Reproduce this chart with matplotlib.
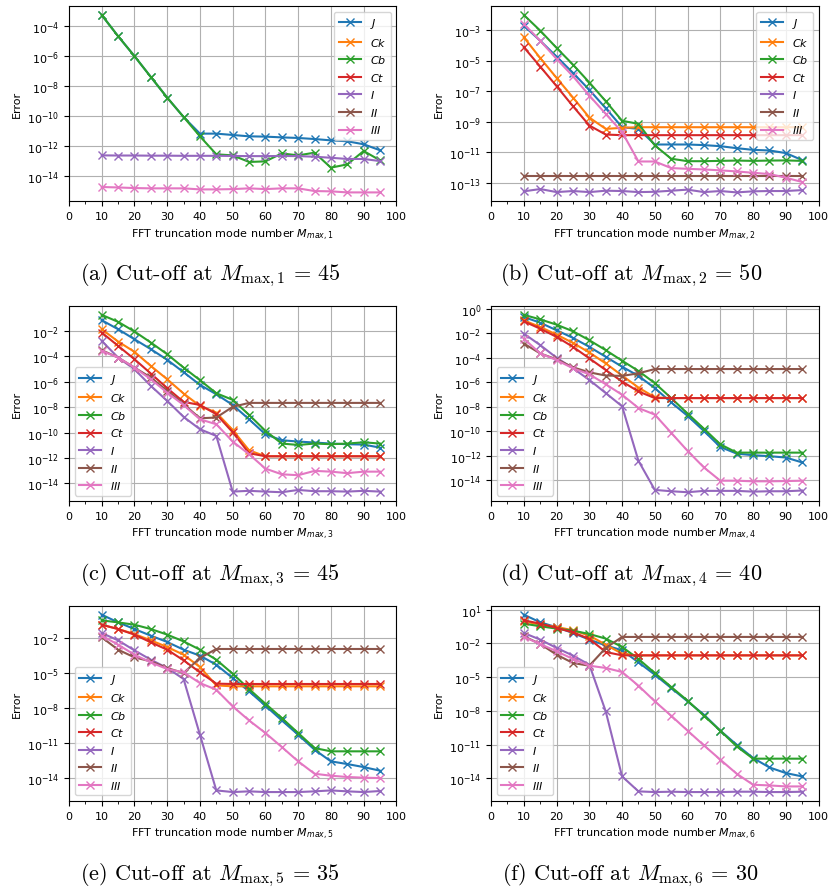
import numpy as np
import matplotlib
matplotlib.use('Agg')
import matplotlib.pyplot as plt
from matplotlib.ticker import MultipleLocator, FixedLocator, NullLocator

plt.rcParams['font.size'] = 8
plt.rcParams['mathtext.fontset'] = 'dejavusans'

nan = np.nan

# truncation mode numbers
M = [10, 15, 20, 25, 30, 35, 40, 45, 50, 55, 60, 65, 70, 75, 80, 85, 90, 95]

names = ['$J$', '$Ck$', '$Cb$', '$Ct$', '$I$', '$II$', '$III$']
colors = ['#1f77b4', '#ff7f0e', '#2ca02c', '#d62728', '#9467bd', '#8c564b', '#e377c2']

# log10 of the error
# (a) cut-off 45
J_a = [-3.26, -4.67, -6.0, -7.39, -8.77, -10.06, -11.17, -11.17, -11.26, -11.35, -11.37, -11.42, -11.46, -11.53, -11.62, -11.68, -11.88, -12.28]
Ck_a = [nan, nan, nan, nan, nan, nan, nan, nan, nan, nan, nan, nan, nan, nan, nan, nan, nan, nan]
Cb_a = [-3.26, -4.67, -6.0, -7.39, -8.77, -10.06, -11.35, -12.55, -12.62, -13.06, -13.02, -12.49, -12.62, -12.44, -13.44, -13.22, -12.33, -12.95]
Ct_a = [nan, nan, nan, nan, nan, nan, nan, nan, nan, nan, nan, nan, nan, nan, nan, nan, nan, nan]
I_a = [-12.62, -12.63, -12.63, -12.64, -12.64, -12.65, -12.65, -12.65, -12.66, -12.67, -12.67, -12.66, -12.67, -12.71, -12.78, -12.86, -12.86, -13.0]
II_a = [nan, nan, nan, nan, nan, nan, nan, nan, nan, nan, nan, nan, nan, nan, nan, nan, nan, nan]
III_a = [-14.73, -14.76, -14.8, -14.82, -14.82, -14.82, -14.89, -14.89, -14.87, -14.82, -14.87, -14.82, -14.82, -15.0, -15.02, -15.09, -15.09, -15.09]

# (b) cut-off 50
J_b = [-2.72, -3.70, -4.74, -5.80, -6.91, -8.11, -9.35, -9.46, -10.48, -10.48, -10.48, -10.52, -10.59, -10.72, -10.83, -10.87, -11.04, -11.5]
Ck_b = [-3.48, -4.83, -6.13, -7.41, -8.72, -9.46, -9.39, -9.35, -9.35, -9.35, -9.35, -9.35, -9.35, -9.35, -9.35, -9.35, -9.35, -9.35]
Cb_b = [-2.02, -3.04, -4.17, -5.26, -6.43, -7.65, -8.93, -9.13, -10.54, -11.41, -11.57, -11.57, -11.55, -11.53, -11.55, -11.53, -11.52, -11.55]
Ct_b = [-4.13, -5.39, -6.67, -7.98, -9.24, -9.83, -9.87, -9.87, -9.87, -9.87, -9.87, -9.87, -9.87, -9.87, -9.87, -9.87, -9.87, -9.87]
I_b = [-13.54, -13.39, -13.59, -13.52, -13.59, -13.50, -13.52, -13.59, -13.57, -13.50, -13.43, -13.59, -13.52, -13.61, -13.54, -13.52, -13.52, -13.46]
II_b = [-12.57, -12.57, -12.57, -12.57, -12.57, -12.57, -12.57, -12.57, -12.57, -12.57, -12.57, -12.57, -12.57, -12.57, -12.57, -12.57, -12.57, -12.57]
III_b = [-2.61, -3.70, -4.89, -6.02, -7.28, -8.48, -9.67, -11.59, -11.59, -12.02, -12.07, -12.11, -12.17, -12.24, -12.33, -12.41, -12.65, -12.93]

# (c) cut-off 45
J_c = [-1.16, -1.87, -2.66, -3.44, -4.28, -5.25, -6.25, -6.99, -7.83, -8.96, -10.14, -10.61, -10.71, -10.79, -10.87, -10.92, -10.95, -11.19]
Ck_c = [-1.87, -2.84, -3.65, -4.76, -5.81, -6.93, -7.91, -8.43, -9.80, -11.40, -11.87, -11.87, -11.87, -11.87, -11.87, -11.87, -11.87, -11.87]
Cb_c = [-0.74, -1.29, -2.05, -2.92, -3.84, -4.89, -5.88, -6.91, -7.43, -8.61, -9.87, -10.87, -10.98, -10.87, -10.92, -10.87, -10.77, -10.87]
Ct_c = [-2.13, -3.18, -4.23, -5.36, -6.51, -7.59, -7.83, -8.56, -9.98, -11.63, -11.87, -11.87, -11.87, -11.87, -11.87, -11.87, -11.87, -11.87]
I_c = [-2.79, -4.10, -5.02, -6.33, -7.51, -8.77, -9.74, -10.27, -14.65, -14.59, -14.65, -14.70, -14.52, -14.62, -14.62, -14.65, -14.59, -14.65]
II_c = [-3.52, -4.10, -4.89, -5.67, -6.72, -7.77, -8.88, -8.82, -7.98, -7.67, -7.67, -7.67, -7.67, -7.67, -7.67, -7.67, -7.67, -7.67]
III_c = [-3.57, -4.10, -4.89, -5.81, -6.86, -7.83, -8.96, -9.35, -10.71, -11.71, -12.84, -13.29, -13.36, -13.02, -13.08, -13.2, -13.08, -13.08]

# (d) cut-off 40
J_d = [-0.67, -1.13, -1.75, -2.37, -3.10, -3.91, -4.72, -5.47, -6.47, -7.63, -8.73, -9.97, -11.27, -11.81, -11.94, -12.02, -12.13, -12.53]
Ck_d = [-0.94, -1.48, -2.10, -2.78, -3.56, -4.45, -5.44, -6.42, -7.22, -7.28, -7.28, -7.28, -7.28, -7.28, -7.28, -7.28, -7.28, -7.28]
Cb_d = [-0.49, -0.86, -1.29, -1.83, -2.56, -3.37, -4.23, -5.07, -6.06, -7.28, -8.54, -9.78, -11.05, -11.73, -11.73, -11.73, -11.73, -11.73]
Ct_d = [-1.02, -1.62, -2.29, -3.10, -4.04, -4.99, -5.93, -6.74, -7.28, -7.28, -7.28, -7.28, -7.28, -7.28, -7.28, -7.28, -7.28, -7.28]
I_d = [-2.02, -2.96, -3.99, -4.85, -5.80, -6.87, -7.95, -12.4, -14.77, -14.88, -14.96, -14.85, -14.85, -14.85, -14.91, -14.88, -14.88, -14.82]
II_d = [-2.83, -3.64, -4.12, -4.77, -5.18, -5.44, -5.47, -5.26, -4.91, -4.91, -4.91, -4.91, -4.91, -4.91, -4.91, -4.91, -4.91, -4.91]
III_d = [-2.43, -3.64, -4.18, -4.85, -5.34, -6.15, -7.01, -8.09, -8.63, -10.11, -11.59, -12.94, -14.02, -14.02, -14.07, -14.07, -14.05, -14.02]

# (e) cut-off 35
J_e = [0.0, -0.66, -1.23, -1.80, -2.34, -3.0, -3.51, -4.29, -5.43, -6.57, -7.80, -9.06, -10.29, -11.57, -12.57, -12.80, -13.06, -13.37]
Ck_e = [-0.86, -1.23, -1.66, -2.20, -2.77, -3.43, -4.49, -6.06, -6.14, -6.14, -6.14, -6.14, -6.14, -6.14, -6.14, -6.14, -6.14, -6.14]
Cb_e = [-0.49, -0.66, -0.86, -1.23, -1.71, -2.29, -3.0, -3.86, -5.06, -6.37, -7.63, -8.86, -10.14, -11.43, -11.71, -11.71, -11.71, -11.71]
Ct_e = [-0.86, -1.23, -1.71, -2.37, -3.0, -3.91, -4.94, -5.91, -5.94, -5.94, -5.94, -5.94, -5.94, -5.94, -5.94, -5.94, -5.94, -5.94]
I_e = [-1.57, -2.2, -3.06, -3.86, -4.57, -5.51, -10.29, -15.06, -15.2, -15.14, -15.2, -15.2, -15.2, -15.14, -15.06, -15.14, -15.2, -15.11]
II_e = [-1.94, -3.0, -3.66, -4.0, -4.57, -5.0, -3.71, -2.94, -2.94, -2.94, -2.94, -2.94, -2.94, -2.94, -2.94, -2.94, -2.94, -2.94]
III_e = [-1.8, -2.57, -3.43, -4.09, -4.66, -4.94, -5.86, -6.43, -7.86, -9.06, -10.14, -11.34, -12.57, -13.63, -13.80, -13.91, -13.97, -14.0]

# (f) cut-off 30
J_f = [0.55, -0.13, -0.57, -1.08, -1.67, -2.18, -2.62, -3.69, -4.79, -5.97, -7.16, -8.35, -9.77, -11.02, -12.2, -13.04, -13.54, -13.84]
Ck_f = [-0.04, -0.34, -0.54, -0.84, -1.31, -2.12, -2.92, -3.07, -3.07, -3.07, -3.07, -3.07, -3.07, -3.07, -3.07, -3.07, -3.07, -3.07]
Cb_f = [-0.25, -0.48, -0.69, -0.87, -1.17, -1.58, -2.32, -3.39, -4.64, -5.88, -7.10, -8.44, -9.77, -11.17, -12.26, -12.26, -12.26, -12.26]
Ct_f = [0.05, -0.25, -0.63, -1.02, -1.61, -2.77, -3.07, -3.07, -3.07, -3.07, -3.07, -3.07, -3.07, -3.07, -3.07, -3.07, -3.07, -3.07]
I_f = [-1.08, -1.67, -2.41, -3.09, -3.90, -8.05, -13.84, -15.17, -15.23, -15.2, -15.23, -15.23, -15.23, -15.2, -15.2, -15.23, -15.23, -15.2]
II_f = [-1.37, -2.06, -3.01, -3.75, -3.99, -2.41, -1.43, -1.43, -1.43, -1.43, -1.43, -1.43, -1.43, -1.43, -1.43, -1.43, -1.43, -1.43]
III_f = [-1.43, -2.06, -2.71, -3.39, -3.99, -4.19, -4.55, -5.77, -7.16, -8.44, -9.77, -11.08, -12.35, -13.6, -14.58, -14.64, -14.73, -14.73]

# y tick exponents shown on each panel
yt_a = [-4, -6, -8, -10, -12, -14]
yt_b = [-3, -5, -7, -9, -11, -13]
yt_c = [-2, -4, -6, -8, -10, -12, -14]
yt_d = [0, -2, -4, -6, -8, -10, -12, -14]
yt_e = [-2, -5, -8, -11, -14]
yt_f = [1, -2, -5, -8, -11, -14]

panels = [
    ([J_a, Ck_a, Cb_a, Ct_a, I_a, II_a, III_a], yt_a, 'a', 1, 45, 'upper right'),
    ([J_b, Ck_b, Cb_b, Ct_b, I_b, II_b, III_b], yt_b, 'b', 2, 50, 'upper right'),
    ([J_c, Ck_c, Cb_c, Ct_c, I_c, II_c, III_c], yt_c, 'c', 3, 45, 'lower left'),
    ([J_d, Ck_d, Cb_d, Ct_d, I_d, II_d, III_d], yt_d, 'd', 4, 40, 'lower left'),
    ([J_e, Ck_e, Cb_e, Ct_e, I_e, II_e, III_e], yt_e, 'e', 5, 35, 'lower left'),
    ([J_f, Ck_f, Cb_f, Ct_f, I_f, II_f, III_f], yt_f, 'f', 6, 30, 'lower left'),
]

fig = plt.figure(figsize=(8.31, 8.95), dpi=100)

lefts = [0.083, 0.591]
bottoms = [0.774, 0.439, 0.104]
caption_x = [0.253, 0.759]
caption_y = [0.692, 0.357, 0.022]

for k, (series, yt, letter, idx, cut, loc) in enumerate(panels):
    row, col = k // 2, k % 2
    ax = fig.add_axes([lefts[col], bottoms[row], 0.394, 0.218])
    for s, name, c in zip(series, names, colors):
        ax.plot(M, 10.0 ** np.array(s), marker='x', color=c, label=name,
                markersize=6, linewidth=1.5)
    ax.set_yscale('log')
    ax.yaxis.set_major_locator(FixedLocator([10.0 ** e for e in yt]))
    ax.yaxis.set_minor_locator(NullLocator())
    ax.set_xlim(0, 100)
    ax.xaxis.set_major_locator(MultipleLocator(10))
    ax.xaxis.set_minor_locator(MultipleLocator(5))
    ax.set_xlabel('FFT truncation mode number $M_{max,%d}$' % idx)
    ax.set_ylabel('Error')
    ax.grid(True)
    ax.legend(loc=loc)
    fig.text(caption_x[col], caption_y[row],
             r'(%s) Cut-off at $M_{\mathrm{max},%d}\,=\,%d$' % (letter, idx, cut),
             ha='center', va='center', fontsize=16, family='cmr10',
             math_fontfamily='cm')

plt.savefig('out.png', dpi=100)
